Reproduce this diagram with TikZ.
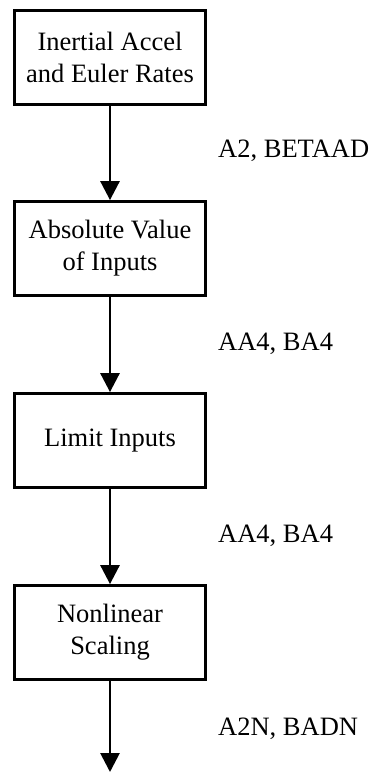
\documentclass[tikz,border=0pt]{standalone}
\usepackage{fontspec}
\setmainfont{Liberation Serif}
\usetikzlibrary{arrows.meta}
\begin{document}
\begin{tikzpicture}[x=1pt,y=1pt,
  blk/.style={draw=black, line width=2.8pt, minimum width=191pt, minimum height=94pt,
    align=center, inner sep=0pt, font=\fontsize{26.5}{32}\selectfont},
  flow/.style={line width=2.8pt, -{Triangle[length=19pt,width=19pt]}},
  lbl/.style={anchor=base west, inner sep=0pt, font=\fontsize{26.5}{32}\selectfont}]
\useasboundingbox (0,0) rectangle (375,-774);
\node[blk] (b1) at (110,-57.5) {Inertial Accel\\and Euler Rates};
\node[blk] (b2) at (110,-248.5) {Absolute Value\\of Inputs};
\node[blk] (b3) at (110,-440.5) {Limit Inputs};
\node[blk] (b4) at (110,-632.5) {Nonlinear\\Scaling};
\coordinate (end) at (110,-772);
\draw[flow] (b1) -- (b2);
\draw[flow] (b2) -- (b3);
\draw[flow] (b3) -- (b4);
\draw[flow] (b4) -- (end);
\node[lbl] (l1) at (218,-157) {A2, BETAAD};
\node[lbl] (l2) at (218,-350) {AA4, BA4};
\node[lbl] (l3) at (218,-542) {AA4, BA4};
\node[lbl] (l4) at (218,-735) {A2N, BADN};
\end{tikzpicture}
\end{document}
